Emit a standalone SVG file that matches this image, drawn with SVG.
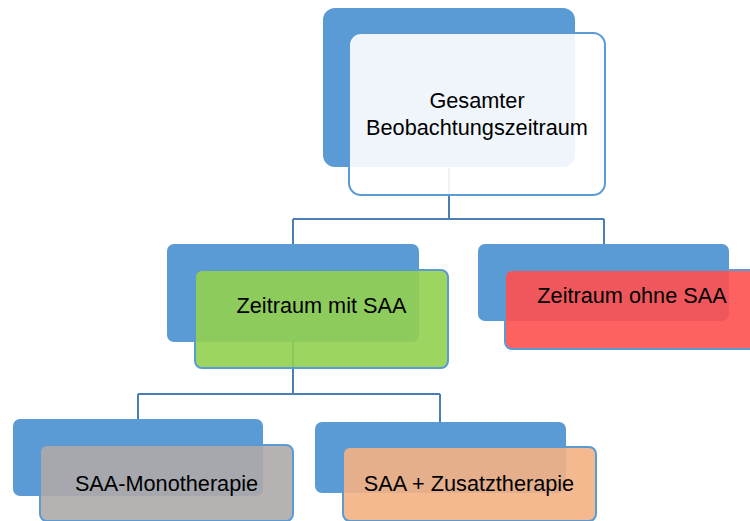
<svg xmlns="http://www.w3.org/2000/svg" width="750" height="521" viewBox="0 0 750 521">
<style>
.back{fill:#5B9BD5;}
.front{stroke:#5B9BD5;stroke-width:2;fill-opacity:0.9;}
.conn{fill:none;stroke:#4A7EB5;stroke-width:2;}
text{font-family:"Liberation Sans",Arial,sans-serif;font-size:21.7px;fill:#000;text-anchor:middle;}
</style>
<rect width="750" height="521" fill="#fff"/>
<g id="connectors">
<path class="conn" d="M449 168V219M293 219H604M293 219V244M604 219V244"/>
<path class="conn" d="M293 342V394M138 394H440M138 394V419M440 394V422"/>
</g>
<g id="node-gesamt">
<rect class="back" x="323" y="8" width="252" height="159" rx="12"/>
<rect class="front" x="349" y="33" width="256" height="162" rx="12" fill="#fff"/>
<text x="477" y="108">Gesamter</text>
<text x="477" y="135">Beobachtungszeitraum</text>
</g>
<g id="node-mit">
<rect class="back" x="167" y="244" width="252" height="98" rx="7"/>
<rect class="front" x="195" y="270" width="253" height="98" rx="7" fill="#92D050"/>
<text x="321.5" y="313">Zeitraum mit SAA</text>
</g>
<g id="node-ohne">
<rect class="back" x="478" y="244" width="251" height="77" rx="7"/>
<rect class="front" x="505" y="270" width="253" height="79" rx="7" fill="#FF5050"/>
<text x="632" y="303">Zeitraum ohne SAA</text>
</g>
<g id="node-mono">
<rect class="back" x="13" y="419" width="250" height="77" rx="7"/>
<rect class="front" x="40" y="445" width="253" height="76" rx="7" fill="#AEAAAA"/>
<text x="166.5" y="491">SAA-Monotherapie</text>
</g>
<g id="node-zusatz">
<rect class="back" x="315" y="422" width="251" height="71" rx="7"/>
<rect class="front" x="343" y="447" width="253" height="74" rx="7" fill="#F4B183"/>
<text x="469" y="491">SAA + Zusatztherapie</text>
</g>
</svg>
